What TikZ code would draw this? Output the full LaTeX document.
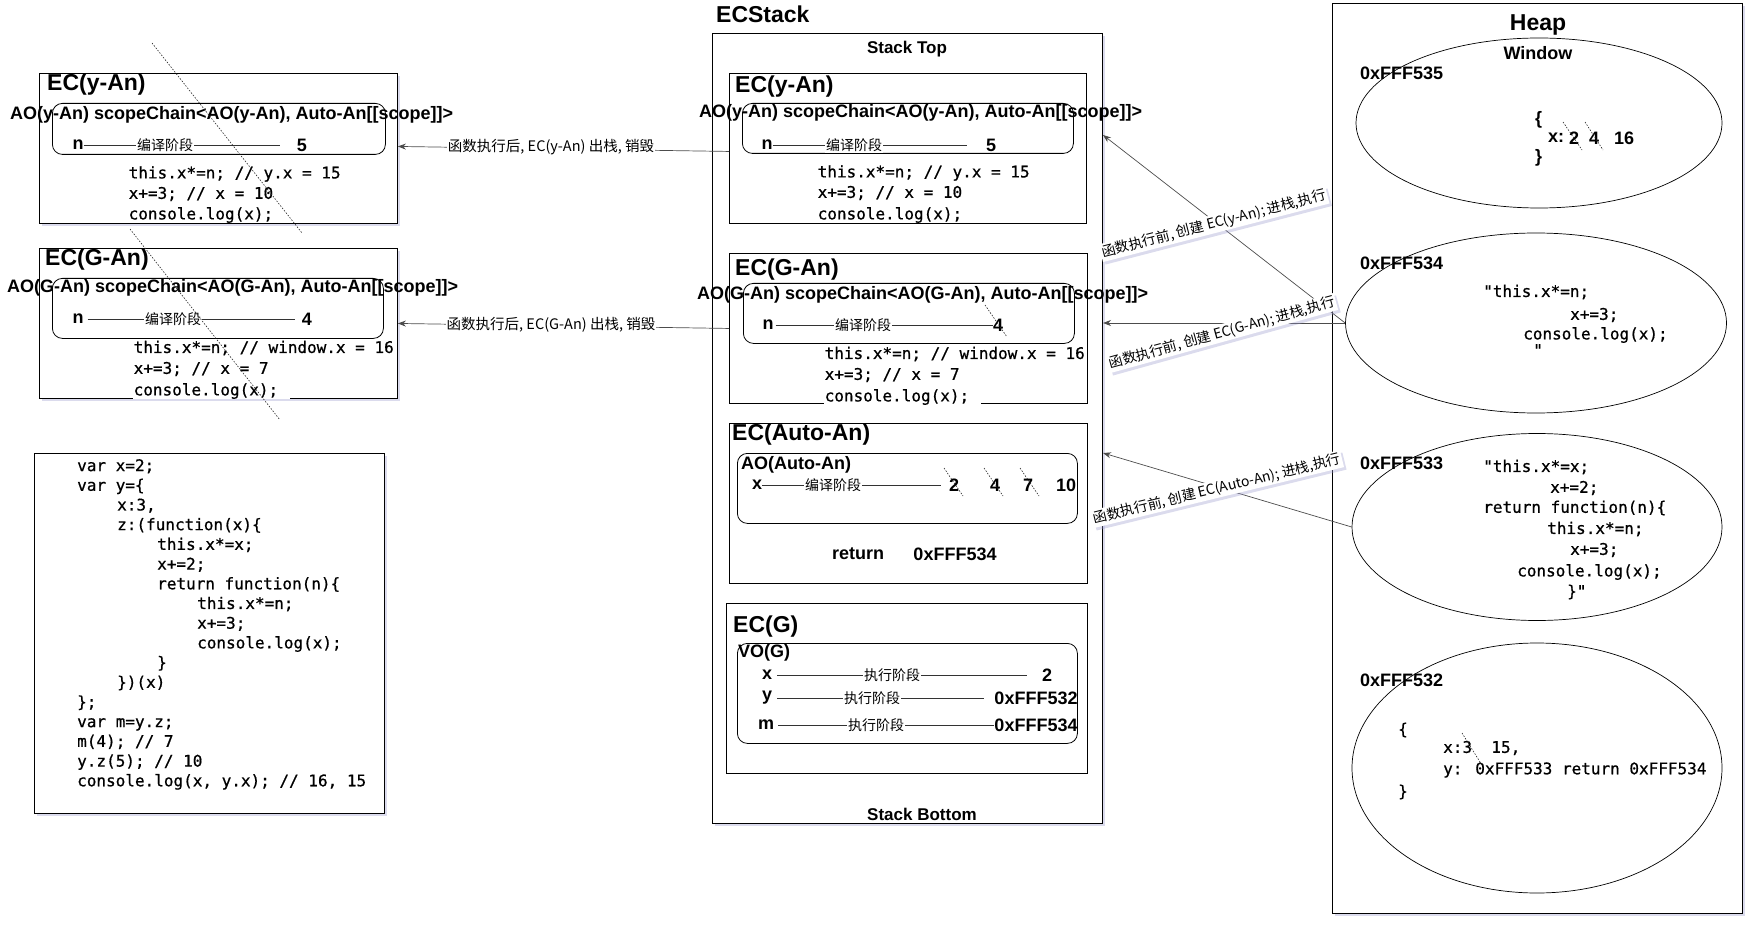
\documentclass[tikz,border=0pt]{standalone}
\usepackage{fontspec}
\setmainfont{Liberation Sans}
\newfontfamily\cjk{Noto Sans CJK SC}
\newfontfamily\mono{DejaVu Sans Mono}[FakeBold=0.7]
\usetikzlibrary{arrows.meta,shadows,shapes.geometric}
\newcommand\myindA{\hspace*{40pt}}
\newcommand\myindB{\hspace*{80pt}}
\newcommand\myindC{\hspace*{120pt}}
\begin{document}
\begin{tikzpicture}[x=1pt,y=-1pt,
  shd/.style={drop shadow={shadow xshift=2.5pt,shadow yshift=-2.5pt,opacity=0.35,fill=black!50!blue!40}},
  box/.style={draw=black,line width=0.9pt,fill=white,anchor=north west,inner sep=0pt},
  rbox/.style={draw=black,line width=0.8pt,rounded corners=10pt,anchor=north west,inner sep=0pt},
  ell/.style={draw=black,ellipse,line width=0.7pt,fill=white,inner sep=0pt},
  ttl/.style={font=\fontsize{23}{27}\selectfont\bfseries,inner sep=0pt,anchor=west},
  bt/.style={font=\fontsize{18}{21}\selectfont\bfseries,inner sep=0pt,anchor=west},
  btc/.style={font=\fontsize{18}{21}\selectfont\bfseries,inner sep=0pt},
  phase/.style={font=\cjk\fontsize{14}{16}\selectfont,fill=white,inner sep=1pt},
  code/.style={font=\mono\fontsize{16}{19.7}\selectfont,inner sep=0.5pt,anchor=west,fill=white},
  codelast/.style={code,text width=156pt,align=left},
  hc/.style={font=\mono\fontsize{16}{19.7}\selectfont,inner sep=0pt,anchor=west},
  lbl/.style={font=\cjk\fontsize{14.5}{16}\selectfont,fill=white,inner sep=1pt},
  rlbl/.style={font=\cjk\fontsize{14}{16}\selectfont,fill=white,inner sep=1.5pt,shd},
  row/.style={line width=0.8pt,black!80},
  arr/.style={-{Stealth[length=8pt,width=6pt]},line width=0.7pt,black!70},
  strike/.style={dash pattern=on 1.5pt off 1.5pt,line width=0.6pt,black!85}]
\useasboundingbox (0,0) rectangle (1753,925);

% ---------- left side boxes ----------
\node[box,shd,minimum width=358pt,minimum height=150pt] (lyan) at (39,73) {};
\node[box,shd,minimum width=358pt,minimum height=150pt] (lgan) at (39,248) {};
\node[box,shd,minimum width=350pt,minimum height=360pt] (codebox) at (34,453) {};

% ---------- stack ----------
\node[box,shd,minimum width=390pt,minimum height=790pt] (stack) at (712,33) {};
\node[box,minimum width=357pt,minimum height=150pt] (syan) at (729,73) {};
\node[box,minimum width=358pt,minimum height=150pt] (sgan) at (729,253) {};
\node[box,minimum width=358pt,minimum height=160pt] (sauto) at (729,423) {};
\node[box,minimum width=361pt,minimum height=170pt] (sg) at (726,603) {};

% ---------- heap ----------
\node[box,shd,minimum width=410pt,minimum height=910pt] (heap) at (1332,3) {};
\node[ell,minimum width=366pt,minimum height=170pt] (e1) at (1539,123) {};
\node[ell,minimum width=381pt,minimum height=180pt] (e2) at (1536,323) {};
\node[ell,minimum width=370pt,minimum height=187pt] (e3) at (1537,527) {};
\node[ell,minimum width=370pt,minimum height=250pt] (e4) at (1537,768) {};

% ---------- rounded inner boxes ----------
\node[rbox,minimum width=333pt,minimum height=51pt] (lyanr) at (52,103) {};
\node[rbox,minimum width=331pt,minimum height=60pt] (lganr) at (52,278) {};
\node[rbox,minimum width=331pt,minimum height=50pt] (syanr) at (742,103) {};
\node[rbox,minimum width=331pt,minimum height=60pt] (sganr) at (743,283) {};
\node[rbox,minimum width=340pt,minimum height=70pt] (sautor) at (737,453) {};
\node[rbox,minimum width=340pt,minimum height=100pt] (sgr) at (737,643) {};

% ---------- titles ----------
\node[ttl] (tlyan) at (47,85) {EC(y-An)};
\node[ttl] (tlgan) at (45,260) {EC(G-An)};
\node[ttl] (tstack) at (716,14) {ECStack};
\node[ttl] (tsyan) at (735,87) {EC(y-An)};
\node[ttl] (tsgan) at (735,270) {EC(G-An)};
\node[ttl] (tsauto) at (732,435) {EC(Auto-An)};
\node[ttl] (tsg) at (733,627) {EC(G)};
\node[font=\fontsize{23}{27}\selectfont\bfseries,inner sep=0pt] (theap) at (1538,25) {Heap};
\node[font=\fontsize{17}{20}\selectfont\bfseries,inner sep=0pt] (stop) at (907,49) {Stack Top};
\node[font=\fontsize{17}{20}\selectfont\bfseries,inner sep=0pt] (sbot) at (922,814) {Stack Bottom};

% ---------- AO lines ----------
\node[bt] (aolyan) at (10,115) {AO(y-An) scopeChain<AO(y-An), Auto-An[[scope]]>};
\node[bt] (aolgan) at (7,288) {AO(G-An) scopeChain<AO(G-An), Auto-An[[scope]]>};
\node[bt] (aosyan) at (699,113) {AO(y-An) scopeChain<AO(y-An), Auto-An[[scope]]>};
\node[bt] (aosgan) at (697,295) {AO(G-An) scopeChain<AO(G-An), Auto-An[[scope]]>};
\node[bt] (aoauto) at (741,465) {AO(Auto-An)};
\node[bt] (vog) at (738,653) {VO(G)};

% ---------- rows: left EC(y-An) ----------
\node[btc] (n1) at (78,145) {n};
\node[btc] (v1) at (302,145) {5};
\draw[row,shorten >=17pt] (n1.east) -- (v1.west);
\node[phase] (p1) at (165,145) {编译阶段};
% left EC(G-An)
\node[btc] (n2) at (78,319) {n};
\node[btc] (v2) at (307,319) {4};
\draw[row,shorten <=4pt,shorten >=7pt] (n2.east) -- (v2.west);
\node[phase] (p2) at (173,319) {编译阶段};
% stack EC(y-An)
\node[btc] (n3) at (767,145) {n};
\node[btc] (v3) at (991,145) {5};
\draw[row,shorten >=19pt] (n3.east) -- (v3.west);
\node[phase] (p3) at (854,145) {编译阶段};
% stack EC(G-An)
\node[btc] (n4) at (768,325) {n};
\node[btc] (v4) at (998,325) {4};
\draw[row,shorten <=2pt] (n4.east) -- (v4.west);
\node[phase] (p4) at (863,325) {编译阶段};
% EC(Auto-An)
\node[btc] (n5) at (757,485) {x};
\node[btc] (v5a) at (954,485) {2};
\node[btc] (v5b) at (995,485) {4};
\node[btc] (v5c) at (1028,485) {7};
\node[btc] (v5d) at (1066,485) {10};
\draw[row,shorten >=8pt] (n5.east) -- (v5a.west);
\node[phase] (p5) at (833,485) {编译阶段};
\node[btc] (ret) at (858,554) {return};
\node[btc] (retv) at (955,554) {0xFFF534};
% EC(G)
\node[btc] (gx) at (767,675) {x};
\node[btc] (gxv) at (1047,675) {2};
\draw[row,shorten <=5pt,shorten >=15pt] (gx.east) -- (gxv.west);
\node[phase] (pgx) at (892,675) {执行阶段};
\node[btc] (gy) at (767,698) {y};
\node[btc] (gyv) at (1036,698) {0xFFF532};
\draw[row,shorten <=5pt,shorten >=10pt] (gy.east) -- (gyv.west);
\node[phase] (pgy) at (872,698) {执行阶段};
\node[btc] (gm) at (766,725) {m};
\node[btc] (gmv) at (1036,725) {0xFFF534};
\draw[row,shorten <=4pt] (gm.east) -- (gmv.west);
\node[phase] (pgm) at (876,725) {执行阶段};

% ---------- code in EC boxes ----------
\node[code] (c1a) at (128,174) {this.x*=n; // y.x = 15};
\node[code] (c1b) at (128,194) {x+=3; // x = 10};
\node[codelast] (c1c) at (128,215) {console.log(x);};
\node[code] (c2a) at (133,348) {this.x*=n; // window.x = 16};
\node[code] (c2b) at (133,369) {x+=3; // x = 7};
\node[codelast] (c2c) at (133,391) {console.log(x);};
\node[code] (c3a) at (817,173) {this.x*=n; // y.x = 15};
\node[code] (c3b) at (817,193) {x+=3; // x = 10};
\node[codelast] (c3c) at (817,215) {console.log(x);};
\node[code] (c4a) at (824,354) {this.x*=n; // window.x = 16};
\node[code] (c4b) at (824,375) {x+=3; // x = 7};
\node[codelast] (c4c) at (824,397) {console.log(x);};

% ---------- source code box ----------
\node[font=\mono\fontsize{16}{19.7}\selectfont,inner sep=0pt,align=left,anchor=north west] (src) at (77,459) {var x=2;\\
var y=\{\\
\myindA x:3,\\
\myindA z:(function(x)\{\\
\myindB this.x*=x;\\
\myindB x+=2;\\
\myindB return function(n)\{\\
\myindC this.x*=n;\\
\myindC x+=3;\\
\myindC console.log(x);\\
\myindB \}\\
\myindA \})(x)\\
\};\\
var m=y.z;\\
m(4); // 7\\
y.z(5); // 10\\
console.log(x, y.x); // 16, 15};

% ---------- heap contents ----------
\node[font=\fontsize{18}{21}\selectfont\bfseries,inner sep=0pt] (win) at (1538,53) {Window};
\node[bt] (a535) at (1360,73) {0xFFF535};
\node[bt] (b1) at (1535,120) {\{};
\node[bt] (hx) at (1548,138) {x:};
\node[btc] (h2) at (1574,138) {2};
\node[btc] (h4) at (1594,138) {4};
\node[btc] (h16) at (1624,138) {16};
\node[bt] (b2) at (1535,158) {\}};

\node[bt] (a534) at (1360,263) {0xFFF534};
\node[hc] (e2a) at (1483,292) {"this.x*=n;};
\node[hc] (e2b) at (1570,315) {x+=3;};
\node[hc] (e2c) at (1523,335) {console.log(x);};
\node[hc] (e2d) at (1533,350) {"};

\node[bt] (a533) at (1360,463) {0xFFF533};
\node[hc] (e3a) at (1483,467) {"this.x*=x;};
\node[hc] (e3b) at (1550,488) {x+=2;};
\node[hc] (e3c) at (1483,508) {return function(n)\{};
\node[hc] (e3d) at (1547,529) {this.x*=n;};
\node[hc] (e3e) at (1570,550) {x+=3;};
\node[hc] (e3f) at (1517,572) {console.log(x);};
\node[hc] (e3g) at (1567,592) {\}"};

\node[bt] (a532) at (1360,680) {0xFFF532};
\node[hc] (e4a) at (1398,730) {\{};
\node[hc] (e4b) at (1443,748) {x:3\ \ 15,};
\node[hc] (e4c) at (1443,770) {y: 0xFFF533 return 0xFFF534};
\node[hc] (e4d) at (1398,792) {\}};

% ---------- connectors ----------
\draw[arr] ([yshift=-3pt]syan.west) -- ([yshift=2pt]lyan.east);
\node[lbl] (l1) at (551,147) {函数执行后, EC(y-An) 出栈, 销毁};
\draw[arr] (sgan.west) -- (lgan.east);
\node[lbl] (l2) at (551,325) {函数执行后, EC(G-An) 出栈, 销毁};

\coordinate (t1) at (1103,135);
\coordinate (t2) at (1103,323);
\coordinate (t3) at (1103,453);
\draw[arr] (e2.west) -- (t1);
\draw[arr] (e2.west) -- (t2);
\draw[arr] (e3.west) -- (t3);
\node[rlbl,rotate=14.5] (l3) at (1214,224) {函数执行前, 创建 EC(y-An); 进栈,执行};
\node[rlbl,rotate=15.5] (l4) at (1222,333) {函数执行前, 创建 EC(G-An); 进栈,执行};
\node[rlbl,rotate=13.7] (l5) at (1217,489) {函数执行前, 创建 EC(Auto-An); 进栈,执行};

% ---------- strike-throughs ----------
\draw[strike] (152,43) -- (302,233);
\draw[strike] (130,229) -- (280,420);
\draw[strike] (985,305) -- (1007,337);
\draw[strike] (944,468) -- (963,496);
\draw[strike] (984,468) -- (1003,496);
\draw[strike] (1020,468) -- (1039,496);
\draw[strike] (1563,122) -- (1582,150);
\draw[strike] (1585,122) -- (1603,150);
\draw[strike] (1462,733) -- (1480,762);
\end{tikzpicture}
\end{document}
